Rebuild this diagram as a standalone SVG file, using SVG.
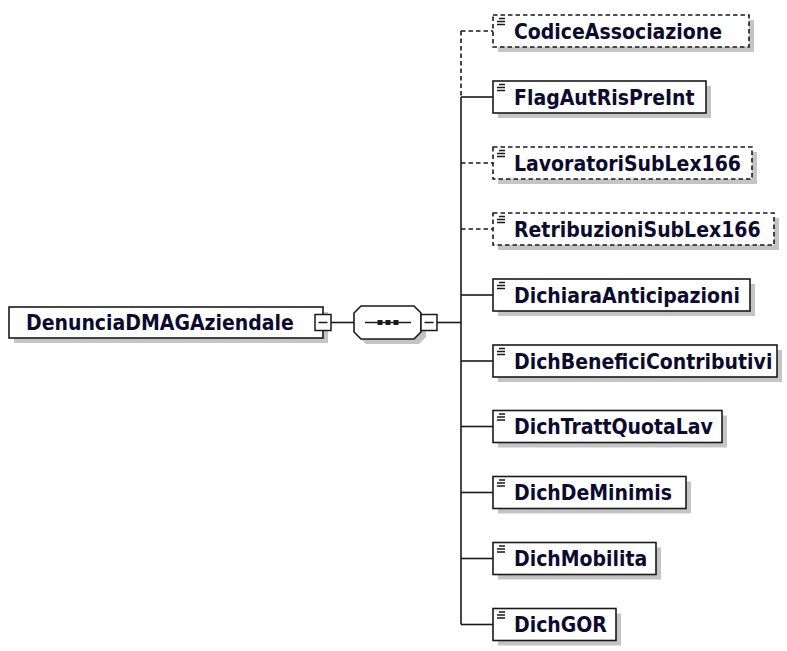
<svg xmlns="http://www.w3.org/2000/svg" width="787" height="651" viewBox="0 0 787 651">
<style>
.bg{fill:#ffffff}
.box{fill:#ffffff;stroke:#1a1a1a;stroke-width:1.6}
.opt{stroke-dasharray:4.5,3}
.sh{fill:#c4c4c4}
.t{font-family:"DejaVu Sans Condensed","DejaVu Sans","Liberation Sans",sans-serif;font-stretch:condensed;font-weight:bold;font-size:21px;fill:#0b0b30}
.ln{stroke:#1a1a1a;stroke-width:1.6;fill:none}
.dl{stroke:#1a1a1a;stroke-width:1.6;fill:none;stroke-dasharray:4.5,3}
.ic{fill:#ffffff;stroke:#1a1a1a;stroke-width:1.5}
.sc{stroke:#1a1a1a;stroke-width:1.5}
</style>
<defs>
<g id="simple"><path class="sc" d="M6 3.5h6M4 6.5h8M4 9.5h8"/></g>
</defs>
<rect class="bg" x="0" y="0" width="787" height="651"/>
<g id="connectors">
<line class="ln" x1="331" y1="322.5" x2="354" y2="322.5"/>
<line class="ln" x1="437" y1="322.5" x2="461" y2="322.5"/>
<line class="dl" x1="461" y1="31" x2="461" y2="97"/>
<line class="ln" x1="461" y1="97" x2="461" y2="624.5"/>
<line class="dl" x1="461" y1="31" x2="493" y2="31"/>
<line class="ln" x1="461" y1="97" x2="493" y2="97"/>
<line class="dl" x1="461" y1="163" x2="493" y2="163"/>
<line class="dl" x1="461" y1="229" x2="493" y2="229"/>
<line class="ln" x1="461" y1="295" x2="493" y2="295"/>
<line class="ln" x1="461" y1="361" x2="493" y2="361"/>
<line class="ln" x1="461" y1="426.5" x2="493" y2="426.5"/>
<line class="ln" x1="461" y1="492.5" x2="493" y2="492.5"/>
<line class="ln" x1="461" y1="558.5" x2="493" y2="558.5"/>
<line class="ln" x1="461" y1="624.5" x2="493" y2="624.5"/>
</g>
<g id="root">
<rect class="sh" x="14" y="312" width="314" height="31"/>
<rect class="box" x="9" y="307" width="314" height="31"/>
<text class="t" x="26" y="330">DenunciaDMAGAziendale</text>
<rect class="ic" x="315" y="314.5" width="16" height="16"/>
<line class="sc" x1="318.5" y1="322.5" x2="327.5" y2="322.5"/>
</g>
<g id="sequence">
<polygon class="sh" points="366,311 419,311 426,318 426,337 419,344 366,344 359,337 359,318"/>
<polygon class="box" points="361,306 414,306 421,313 421,332 414,339 361,339 354,332 354,313"/>
<line class="ln" x1="365" y1="322.5" x2="411" y2="322.5"/>
<rect x="377.5" y="320" width="5" height="5" fill="#1a1a1a"/>
<rect x="385.5" y="320" width="5" height="5" fill="#1a1a1a"/>
<rect x="393.5" y="320" width="5" height="5" fill="#1a1a1a"/>
<rect class="ic" x="421" y="314.5" width="16" height="16"/>
<line class="sc" x1="424.5" y1="322.5" x2="433.5" y2="322.5"/>
</g>
<g id="CodiceAssociazione">
<rect class="sh" x="498" y="20" width="256" height="32"/>
<rect class="box opt" x="493" y="15" width="256" height="32"/>
<use href="#simple" x="493" y="15"/>
<text class="t" x="514" y="38.5">CodiceAssociazione</text>
</g>
<g id="FlagAutRisPreInt">
<rect class="sh" x="498" y="86" width="213" height="32"/>
<rect class="box" x="493" y="81" width="213" height="32"/>
<use href="#simple" x="493" y="81"/>
<text class="t" x="514" y="104.5">FlagAutRisPreInt</text>
</g>
<g id="LavoratoriSubLex166">
<rect class="sh" x="498" y="152" width="259" height="32"/>
<rect class="box opt" x="493" y="147" width="259" height="32"/>
<use href="#simple" x="493" y="147"/>
<text class="t" x="514" y="170.5">LavoratoriSubLex166</text>
</g>
<g id="RetribuzioniSubLex166">
<rect class="sh" x="498" y="218" width="281" height="32"/>
<rect class="box opt" x="493" y="213" width="281" height="32"/>
<use href="#simple" x="493" y="213"/>
<text class="t" x="514" y="236.5">RetribuzioniSubLex166</text>
</g>
<g id="DichiaraAnticipazioni">
<rect class="sh" x="498" y="284" width="257" height="32"/>
<rect class="box" x="493" y="279" width="257" height="32"/>
<use href="#simple" x="493" y="279"/>
<text class="t" x="514" y="302.5">DichiaraAnticipazioni</text>
</g>
<g id="DichBeneficiContributivi">
<rect class="sh" x="498" y="350" width="284" height="32"/>
<rect class="box" x="493" y="345" width="284" height="32"/>
<use href="#simple" x="493" y="345"/>
<text class="t" x="514" y="368.5">DichBeneficiContributivi</text>
</g>
<g id="DichTrattQuotaLav">
<rect class="sh" x="498" y="415.5" width="229" height="32"/>
<rect class="box" x="493" y="410.5" width="229" height="32"/>
<use href="#simple" x="493" y="410.5"/>
<text class="t" x="514" y="434">DichTrattQuotaLav</text>
</g>
<g id="DichDeMinimis">
<rect class="sh" x="498" y="481.5" width="193" height="32"/>
<rect class="box" x="493" y="476.5" width="193" height="32"/>
<use href="#simple" x="493" y="476.5"/>
<text class="t" x="514" y="500">DichDeMinimis</text>
</g>
<g id="DichMobilita">
<rect class="sh" x="498" y="547.5" width="163" height="32"/>
<rect class="box" x="493" y="542.5" width="163" height="32"/>
<use href="#simple" x="493" y="542.5"/>
<text class="t" x="514" y="566">DichMobilita</text>
</g>
<g id="DichGOR">
<rect class="sh" x="498" y="613.5" width="123" height="32"/>
<rect class="box" x="493" y="608.5" width="123" height="32"/>
<use href="#simple" x="493" y="608.5"/>
<text class="t" x="514" y="632">DichGOR</text>
</g>
</svg>
